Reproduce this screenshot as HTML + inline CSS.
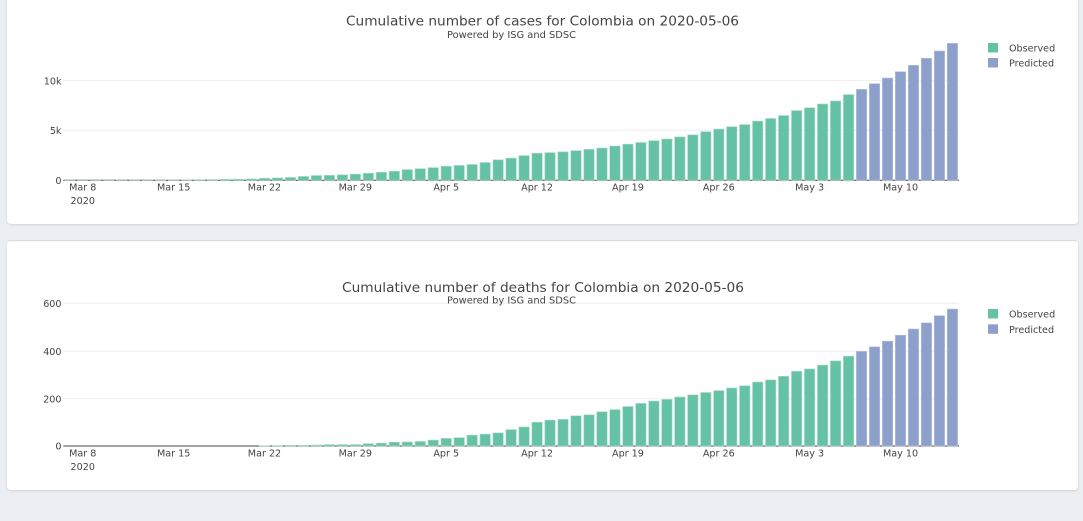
<!DOCTYPE html>
<html><head><meta charset="utf-8"><style>
html,body{margin:0;padding:0;background:#ebeef3;width:1083px;height:521px;overflow:hidden}
svg{display:block}
text{font-family:"DejaVu Sans","Liberation Sans",sans-serif;fill:#444}
</style></head><body>
<svg id="s" width="1083" height="521" viewBox="0 0 1083 521" xmlns="http://www.w3.org/2000/svg">
<defs>
<filter id="sh" x="-5%" y="-10%" width="110%" height="120%"><feDropShadow dx="0" dy="1" stdDeviation="1" flood-color="#000" flood-opacity="0.12"/></filter>
</defs>
<rect x="0" y="0" width="1083" height="521" fill="#ebeef3"/>
<rect x="7" y="-6" width="1071" height="230" rx="4" fill="#fff" filter="url(#sh)"/>
<rect x="7" y="241" width="1071" height="249" rx="4" fill="#fff" filter="url(#sh)"/>
<line x1="9" y1="240.6" x2="1076" y2="240.6" stroke="#d6d9df" stroke-width="1"/>

<!-- top chart -->
<g id="top">
<line x1="63.3" y1="130.3" x2="959" y2="130.3" stroke="#eee"/>
<line x1="63.3" y1="80.6" x2="959" y2="80.6" stroke="#eee"/>
<text x="61.5" y="84.3" font-size="9.6" text-anchor="end">10k</text>
<text x="61.5" y="134" font-size="9.6" text-anchor="end">5k</text>
<text x="61.5" y="183.8" font-size="9.6" text-anchor="end">0</text>
<line x1="63.3" y1="180.2" x2="959" y2="180.2" stroke="#444" stroke-width="1"/>
<g id="barsTop"></g>
<text x="542.5" y="25.5" font-size="13.7" text-anchor="middle" textLength="393" lengthAdjust="spacingAndGlyphs">Cumulative number of cases for Colombia on 2020-05-06</text>
<text x="447" y="38" font-size="9.8" textLength="129" lengthAdjust="spacingAndGlyphs">Powered by ISG and SDSC</text>
<rect x="988" y="43" width="10" height="9.5" fill="#66c2a5"/>
<rect x="988" y="58" width="10" height="9.5" fill="#8da0cb"/>
<text x="1009" y="51.5" font-size="9.6">Observed</text>
<text x="1009" y="66.5" font-size="9.6">Predicted</text>
<g id="ticksTop"></g>
</g>

<!-- bottom chart -->
<g id="bot">
<line x1="63.3" y1="303.3" x2="959" y2="303.3" stroke="#eee"/>
<line x1="63.3" y1="351.2" x2="959" y2="351.2" stroke="#eee"/>
<line x1="63.3" y1="398.8" x2="959" y2="398.8" stroke="#eee"/>
<text x="61.5" y="307" font-size="9.6" text-anchor="end">600</text>
<text x="61.5" y="355" font-size="9.6" text-anchor="end">400</text>
<text x="61.5" y="402.6" font-size="9.6" text-anchor="end">200</text>
<text x="61.5" y="449.7" font-size="9.6" text-anchor="end">0</text>
<line x1="63.3" y1="446" x2="959" y2="446" stroke="#444" stroke-width="1"/>
<g id="barsBot"></g>
<text x="543" y="292" font-size="13.7" text-anchor="middle" textLength="402" lengthAdjust="spacingAndGlyphs">Cumulative number of deaths for Colombia on 2020-05-06</text>
<text x="447" y="303.5" font-size="9.8" textLength="129" lengthAdjust="spacingAndGlyphs">Powered by ISG and SDSC</text>
<rect x="988" y="309" width="10" height="9.5" fill="#66c2a5"/>
<rect x="988" y="324.3" width="10" height="9.5" fill="#8da0cb"/>
<text x="1009" y="317.5" font-size="9.6">Observed</text>
<text x="1009" y="333" font-size="9.6">Predicted</text>
<g id="ticksBot"></g>
</g>
</svg>
<script>
(function(){
var NS="http://www.w3.org/2000/svg";
var cases=[1,1,1,1,3,9,9,13,22,34,54,65,93,102,128,196,231,277,378,470,491,539,608,702,798,
906,1065,1161,1267,1406,1485,1579,1780,2054,2223,2473,2709,2776,2852,2979,3105,3233,3439,3621,3792,3977,4149,4356,4561,4881,5142,5379,5597,5949,6207,
6507,7006,7285,7668,7973,8613,
9145,9710,10280,10915,11560,12265,13000,13770];
var deaths=[0,0,0,0,0,0,0,0,0,0,0,0,0,0,0,1,2,3,3,4,6,6,6,10,12,
16,17,19,25,32,35,46,50,55,69,80,100,109,112,127,131,144,153,166,179,189,196,206,215,225,233,244,253,269,278,
293,314,324,340,358,378,
398,417,441,466,492,518,548,576];
var x0=63.3, step=12.98, bw=10.4, nObs=61;
function bars(gid,data,base,scale){
  var g=document.getElementById(gid);
  for(var i=0;i<data.length;i++){
    var v=data[i];
    var h=v*scale;
    var cx=x0+(i+0.5)*step;
    var r=document.createElementNS(NS,"rect");
    r.setAttribute("x",(cx-bw/2).toFixed(2));
    r.setAttribute("y",(base-h).toFixed(2));
    r.setAttribute("width",bw);
    r.setAttribute("height",Math.max(h,0).toFixed(2));
    var obs=i<nObs;
    r.setAttribute("fill",obs?"#66c2a5":"#8da0cb");
    if(v>0){r.setAttribute("stroke",obs?"#a6dcc9":"#b7c3e0");r.setAttribute("stroke-width","0.6");}
    g.appendChild(r);
  }
}
bars("barsTop",cases,180.2,0.00994);
bars("barsBot",deaths,446,0.2378);
var labels=[["Mar 8",1],["Mar 15",8],["Mar 22",15],["Mar 29",22],["Apr 5",29],["Apr 12",36],["Apr 19",43],["Apr 26",50],["May 3",57],["May 10",64]];
function ticks(gid,by){
  var g=document.getElementById(gid);
  labels.forEach(function(l){
    var t=document.createElementNS(NS,"text");
    t.setAttribute("x",(x0+(l[1]+0.5)*step).toFixed(2));
    t.setAttribute("y",by);
    t.setAttribute("font-size","9.6");
    t.setAttribute("text-anchor","middle");
    t.textContent=l[0];
    g.appendChild(t);
  });
  var t=document.createElementNS(NS,"text");
  t.setAttribute("x",(x0+1.5*step).toFixed(2));
  t.setAttribute("y",by+13.3);
  t.setAttribute("font-size","9.6");
  t.setAttribute("text-anchor","middle");
  t.textContent="2020";
  g.appendChild(t);
}
ticks("ticksTop",190.7);
ticks("ticksBot",456.5);
})();
</script>
</body></html>
